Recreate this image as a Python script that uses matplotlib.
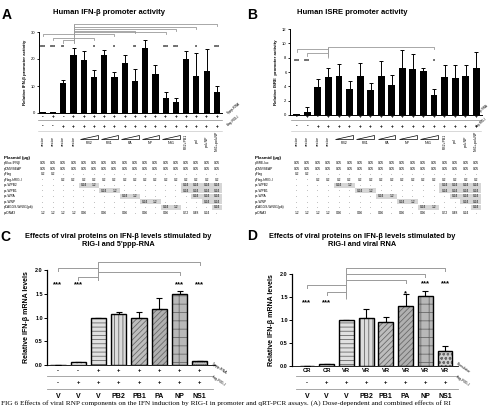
import matplotlib
matplotlib.use('Agg')
import matplotlib.pyplot as plt
from matplotlib.transforms import blended_transform_factory
from matplotlib.patches import Rectangle, Polygon

W, H = 489, 407
plt.rcParams['font.family'] = ['Liberation Sans', 'DejaVu Sans']
plt.rcParams['hatch.linewidth'] = 0.6

# ---- data ----
ifn_vals = [0.3, 0.3, 11.2, 21.4, 19.8, 13.2, 21.6, 13.4, 18.5, 12.0, 24.0, 14.6, 5.6, 4.1, 20.1, 13.8, 15.6, 7.6]
ifn_err = [0.1, 0.1, 1.0, 2.5, 3.1, 2.7, 1.8, 1.8, 3.1, 4.2, 3.1, 3.0, 2.0, 1.4, 2.7, 8.4, 8.2, 2.5]
isre_vals = [0.1, 0.45, 3.9, 5.3, 5.4, 3.6, 5.4, 3.5, 5.5, 4.2, 6.6, 6.4, 6.2, 2.8, 5.3, 5.2, 5.45, 6.55]
isre_err = [0.05, 0.6, 1.1, 1.3, 1.7, 1.2, 1.8, 1.0, 2.1, 1.4, 2.5, 2.15, 0.3, 0.85, 1.7, 1.8, 1.55, 2.2]

ppp_row = ['-', '+', '-', '+', '+', '+', '+', '+', '+', '+', '+', '+', '+', '+', '+', '+', '+', '+']
rig_row = ['-', '-', '+', '+', '+', '+', '+', '+', '+', '+', '+', '+', '+', '+', '+', '+', '+', '+']
vec_labels = ['vector', 'vector', 'vector', 'vector']
pair_labels = ['PB2', 'PB1', 'PA', 'NP', 'NS1']
combo_labels = ['PB2+PB1', 'pol', 'pol+NP', 'NS1+pol+NP']

plasmids_a = ['pGluc-IFNβ', 'pCMV/SEAP', 'pFlag', 'pFlag-hRIG-I', 'pc-WPB2', 'pc-WPB1',
              'pc-WPA', 'pc-WNP', 'pCAGGS-WNS1(pb)', 'pcDNA3']
plasmids_b = ['pISRE-luc'] + plasmids_a[1:]
d = '-'
amounts = [
    ['0.05'] * 18,
    ['0.05'] * 18,
    ['0.2', '0.2'] + [d] * 16,
    [d, d] + ['0.2'] * 16,
    [d] * 4 + ['0.24', '1.2'] + [d] * 8 + ['0.24'] * 4,
    [d] * 6 + ['0.24', '1.2'] + [d] * 6 + ['0.24'] * 4,
    [d] * 8 + ['0.24', '1.2'] + [d] * 5 + ['0.24'] * 3,
    [d] * 10 + ['0.24', '1.2'] + [d] * 4 + ['0.24'] * 2,
    [d] * 12 + ['0.24', '1.2'] + [d] * 3 + ['0.24'],
    ['1.2', '1.2', '1.2', '1.2', '0.96', d, '0.96', d, '0.96', d, '0.96', d, '0.96', d, '0.72', '0.48', '0.24', d],
]

c_vals = [0.01, 0.06, 1.0, 1.07, 0.98, 1.18, 1.49, 0.08]
c_err = [0.0, 0.01, 0.0, 0.04, 0.13, 0.24, 0.07, 0.0]
d_vals = [0.01, 0.04, 1.0, 1.05, 0.96, 1.31, 1.53, 0.33]
d_err = [0.0, 0.01, 0.0, 0.19, 0.11, 0.26, 0.1, 0.11]
prot_labels = ['V', 'V', 'V', 'PB2', 'PB1', 'PA', 'NP', 'NS1']
c_row1 = ['-', '-', '+', '+', '+', '+', '+', '+']
c_row2 = ['-', '+', '+', '+', '+', '+', '+', '+']
d_row1 = ['CR', 'CR', 'VR', 'VR', 'VR', 'VR', 'VR', 'VR']
hatches_c = ['', '....', '----', '||||', '//////', '//////', '++', '........']
faces_c = ['white', 'white', '#e0e0e0', '#dcdcdc', '#bdbdbd', '#b0b0b0', '#b8b8b8', '#c8c8c8']
hatches_d = ['', '....', '----', '||||', '//////', '//////', '++', 'oooo']
faces_d = ['white', 'white', '#e0e0e0', '#dcdcdc', '#bdbdbd', '#b0b0b0', '#b8b8b8', '#d0d0d0']


def fx(x):
    return x / W


def fy(y):
    return 1 - y / H


def make_axes(left, right, top, bottom):
    return fig.add_axes([fx(left), fy(bottom), (right - left) / W, (bottom - top) / H])


def bracket(ax, x0, x1, y, drop, lw=0.6):
    ax.plot([x0, x0, x1, x1], [y - drop, y, y, y - drop], color='#9a9a9a', lw=lw, clip_on=False)


fig = plt.figure(figsize=(W / 100, H / 100), dpi=100)


def promoter_panel(ax, vals, errs, ymax, ystep, ylabel, width):
    n = len(vals)
    x = list(range(n))
    ax.bar(x, vals, width=width, color='black', zorder=2)
    ax.errorbar(x, vals, yerr=[[0] * n, errs], fmt='none', ecolor='black',
                elinewidth=0.7, capsize=1.3, capthick=0.7, zorder=1)
    ax.set_ylim(0, ymax)
    ax.set_yticks(range(0, ymax + 1, ystep))
    ax.tick_params(axis='y', labelsize=3, length=1.5, width=0.6, pad=1)
    ax.set_xticks([])
    for s in ['top', 'right']:
        ax.spines[s].set_visible(False)
    ax.spines['left'].set_linewidth(0.7)
    ax.spines['bottom'].set_linewidth(0.7)
    ax.set_ylabel(ylabel, fontsize=3.2, fontweight='bold', labelpad=3)
    ax.patch.set_alpha(0)

    tr = blended_transform_factory(ax.transData, fig.transFigure)
    for i in range(n):
        ax.text(i, fy(116.5), ppp_row[i], transform=tr, ha='center', va='center', fontsize=3.5, fontweight='bold')
        ax.text(i, fy(126), rig_row[i], transform=tr, ha='center', va='center', fontsize=3.5, fontweight='bold')
    ax.plot([-0.5, n - 0.5], [fy(120.5)] * 2, transform=tr, color='#888', lw=0.5, clip_on=False)
    ax.plot([-0.5, n - 0.5], [fy(131)] * 2, transform=tr, color='#bbb', lw=0.4, clip_on=False)
    for i, lab in enumerate(vec_labels):
        ax.text(i, fy(141), lab, transform=tr, ha='center', va='center', rotation=90, fontsize=2.6)
    for k, lab in enumerate(pair_labels):
        i = 4 + 2 * k
        ax.add_patch(Polygon([(i - 0.35, fy(139)), (i + 1.35, fy(139)), (i + 1.35, fy(134.5))],
                             closed=True, facecolor='white', edgecolor='black', lw=0.5,
                             transform=tr, clip_on=False))
        ax.text(i + 0.5, fy(143.5), lab, transform=tr, ha='center', va='center', fontsize=2.6)
    for k, lab in enumerate(combo_labels):
        ax.text(14 + k, fy(141), lab, transform=tr, ha='center', va='center', rotation=90, fontsize=2.5)
    return tr


def plasmid_table(ax, tr, names, label_x):
    fig.text(fx(label_x), fy(157.5), 'Plasmid (µg)', fontsize=3.2, fontweight='bold', va='center')
    for r, name in enumerate(names):
        y = 163 + 5.56 * r
        fig.text(fx(label_x), fy(y), name, fontsize=2.3, va='center')
        for i, v in enumerate(amounts[r]):
            if 4 <= r <= 8 and v != '-':
                ax.add_patch(Rectangle((i - 0.5, fy(y + 2.5)), 1.0, 5.0 / H, facecolor='#d6d6d6',
                                       edgecolor='none', transform=tr, clip_on=False))
            ax.text(i, fy(y), v, transform=tr, ha='center', va='center', fontsize=2.3)


# ---- panel A ----
axA = make_axes(39, 222, 32, 113)
axA.set_xlim(-0.37, 17.5)
trA = promoter_panel(axA, ifn_vals, ifn_err, 30, 10, 'Relative IFN-β promoter activity', 0.6)
axA.vlines(3, 26.0, 33.0, color='#9a9a9a', lw=0.6, clip_on=False)
for tgt, yy in [(17, 33.0), (15, 31.9), (13, 31.1), (12, 30.0), (9, 30.5), (0, 29.3), (7, 29.3), (1, 27.9), (5, 27.9), (2, 27.0)]:
    bracket(axA, 3, tgt, yy, 0.9)
starsA = {0: '***', 1: '***', 2: '**', 5: '*', 7: '*', 9: '**', 12: '***', 13: '***', 15: '*', 17: '***'}
for i, s in starsA.items():
    axA.text(i, 24.2, s, ha='center', va='center', fontsize=3.8, fontweight='bold')
axA.text(17.9, fy(108), "5'ppp-RNA", transform=trA, fontsize=2.4, rotation=40, ha='left', va='center')
axA.text(17.9, fy(121), 'flag-RIG-I', transform=trA, fontsize=2.4, rotation=40, ha='left', va='center')
plasmid_table(axA, trA, plasmids_a, 4)
fig.text(fx(2), fy(15), 'A', fontsize=10, fontweight='bold', va='center')
fig.text(fx(109), fy(12), 'Human IFN-β promoter activity', fontsize=5.5, fontweight='bold', ha='center', va='center')

# ---- panel B ----
axB = make_axes(290, 482, 29, 115)
axB.set_xlim(-0.64, 17.55)
trB = promoter_panel(axB, isre_vals, isre_err, 12, 2, 'Relative ISRE  promoter activity', 0.65)
axB.vlines(3, 8.0, 9.5, color='#9a9a9a', lw=0.6, clip_on=False)
for tgt, yy in [(13, 9.5), (0, 9.2), (1, 8.65)]:
    bracket(axB, 3, tgt, yy, 0.35)
for i, s in {0: '***', 1: '***', 13: '*'}.items():
    axB.text(i, 7.5, s, ha='center', va='center', fontsize=3.8, fontweight='bold')
axB.text(17.55, fy(110), "5'ppp-RNA", transform=trB, fontsize=2.2, rotation=40, ha='center', va='center')
axB.text(17.55, fy(122), 'flag-RIG-I', transform=trB, fontsize=2.2, rotation=40, ha='center', va='center')
plasmid_table(axB, trB, plasmids_b, 255)
fig.text(fx(247), fy(15), 'B', fontsize=10, fontweight='bold', va='center')
fig.text(fx(352), fy(12), 'Human ISRE promoter activity', fontsize=5.5, fontweight='bold', ha='center', va='center')


# ---- panels C and D ----
def qpcr_panel(ax, vals, errs, row1, hatches, faces):
    n = len(vals)
    x = list(range(n))
    for i in x:
        ax.bar(i, vals[i], width=0.75, color=faces[i], hatch=hatches[i], edgecolor='#6a6a6a', lw=0, zorder=2)
        ax.bar(i, vals[i], width=0.75, fill=False, edgecolor='black', lw=1.0, zorder=3)
    ax.errorbar(x, vals, yerr=[[0] * n, errs], fmt='none', ecolor='black',
                elinewidth=0.8, capsize=2.0, capthick=0.8, zorder=1)
    ax.set_ylim(0, 2.0)
    ax.set_yticks([0, 0.5, 1.0, 1.5, 2.0])
    ax.set_yticklabels(['0.0', '0.5', '1.0', '1.5', '2.0'], fontweight='bold')
    ax.tick_params(axis='y', labelsize=4, length=2, width=0.7, pad=1)
    ax.set_xticks([])
    for s in ['top', 'right']:
        ax.spines[s].set_visible(False)
    ax.spines['left'].set_linewidth(0.9)
    ax.spines['bottom'].set_linewidth(0.6)
    ax.set_ylabel('Relative IFN-β mRNA levels', fontsize=5, fontweight='bold', labelpad=4)
    ax.patch.set_alpha(0)
    tr = blended_transform_factory(ax.transData, fig.transFigure)
    for i in x:
        ax.text(i, fy(370.5), row1[i], transform=tr, ha='center', va='center', fontsize=4.2, fontweight='bold')
        ax.text(i, fy(382.5), c_row2[i], transform=tr, ha='center', va='center', fontsize=4.2, fontweight='bold')
        ax.text(i, fy(396), prot_labels[i], transform=tr, ha='center', va='center', fontsize=5, fontweight='bold')
    for yy in [376, 388.5]:
        ax.plot([-0.55, n - 0.35], [fy(yy)] * 2, transform=tr, color='#999', lw=0.6, clip_on=False)
    return tr


axC = make_axes(47, 215, 270, 365)
axC.set_xlim(-0.54, 7.75)
trC = qpcr_panel(axC, c_vals, c_err, c_row1, hatches_c, faces_c)
axC.vlines(2, 1.78, 2.17, color='#9a9a9a', lw=0.7, clip_on=False)
for tgt, yy in [(7, 2.17), (0, 2.04), (6, 1.96), (1, 1.85)]:
    bracket(axC, 2, tgt, yy, 0.06, lw=0.7)
for i in [0, 1, 6, 7]:
    axC.text(i, 1.7, '***', ha='center', va='center', fontsize=5.5, fontweight='bold')
axC.text(7.55, fy(368), "5'ppp-RNA", transform=trC, fontsize=2.6, rotation=-35, ha='left', va='center')
axC.text(7.55, fy(381), 'flag-RIG-I', transform=trC, fontsize=2.6, rotation=-35, ha='left', va='center')
fig.text(fx(0.5), fy(237), 'C', fontsize=10, fontweight='bold', va='center')
fig.text(fx(118), fy(236), 'Effects of viral proteins on IFN-β levels stimulated by',
         fontsize=5.3, fontweight='bold', ha='center', va='center')
fig.text(fx(118), fy(244.5), "RIG-I and 5'ppp-RNA", fontsize=5.3, fontweight='bold', ha='center', va='center')

axD = make_axes(292, 458, 274, 366)
axD.set_xlim(-0.76, 7.66)
trD = qpcr_panel(axD, d_vals, d_err, d_row1, hatches_d, faces_d)
axD.vlines(2, 1.45, 2.13, color='#9a9a9a', lw=0.7, clip_on=False)
for tgt, yy in [(7, 2.13), (6, 2.0), (5, 1.87), (0, 1.76), (1, 1.61)]:
    bracket(axD, 2, tgt, yy, 0.06, lw=0.7)
for i, yy, s in [(0, 1.37, '***'), (1, 1.37, '***'), (5, 1.58, '*'), (6, 1.78, '***'), (7, 1.78, '***')]:
    axD.text(i, yy, s, ha='center', va='center', fontsize=5.5, fontweight='bold')
axD.text(7.5, fy(368), 'Stimulator', transform=trD, fontsize=2.6, rotation=-35, ha='left', va='center')
axD.text(7.5, fy(381), 'flag-RIG-I', transform=trD, fontsize=2.6, rotation=-35, ha='left', va='center')
fig.text(fx(247), fy(236), 'D', fontsize=10, fontweight='bold', va='center')
fig.text(fx(362), fy(236), 'Effects of viral proteins on IFN-β levels stimulated by',
         fontsize=5.3, fontweight='bold', ha='center', va='center')
fig.text(fx(362), fy(244.5), 'RIG-I and viral RNA', fontsize=5.3, fontweight='bold', ha='center', va='center')

# caption at the bottom edge
fig.text(fx(1), fy(406.5),
         'FIG 6 Effects of viral RNP components on the IFN induction by RIG-I in promoter and qRT-PCR assays. '
         '(A) Dose-dependent and combined effects of RI',
         fontsize=5.2, family=['Liberation Serif', 'DejaVu Serif'], va='bottom', ha='left')

fig.savefig('out.png', dpi=100)
